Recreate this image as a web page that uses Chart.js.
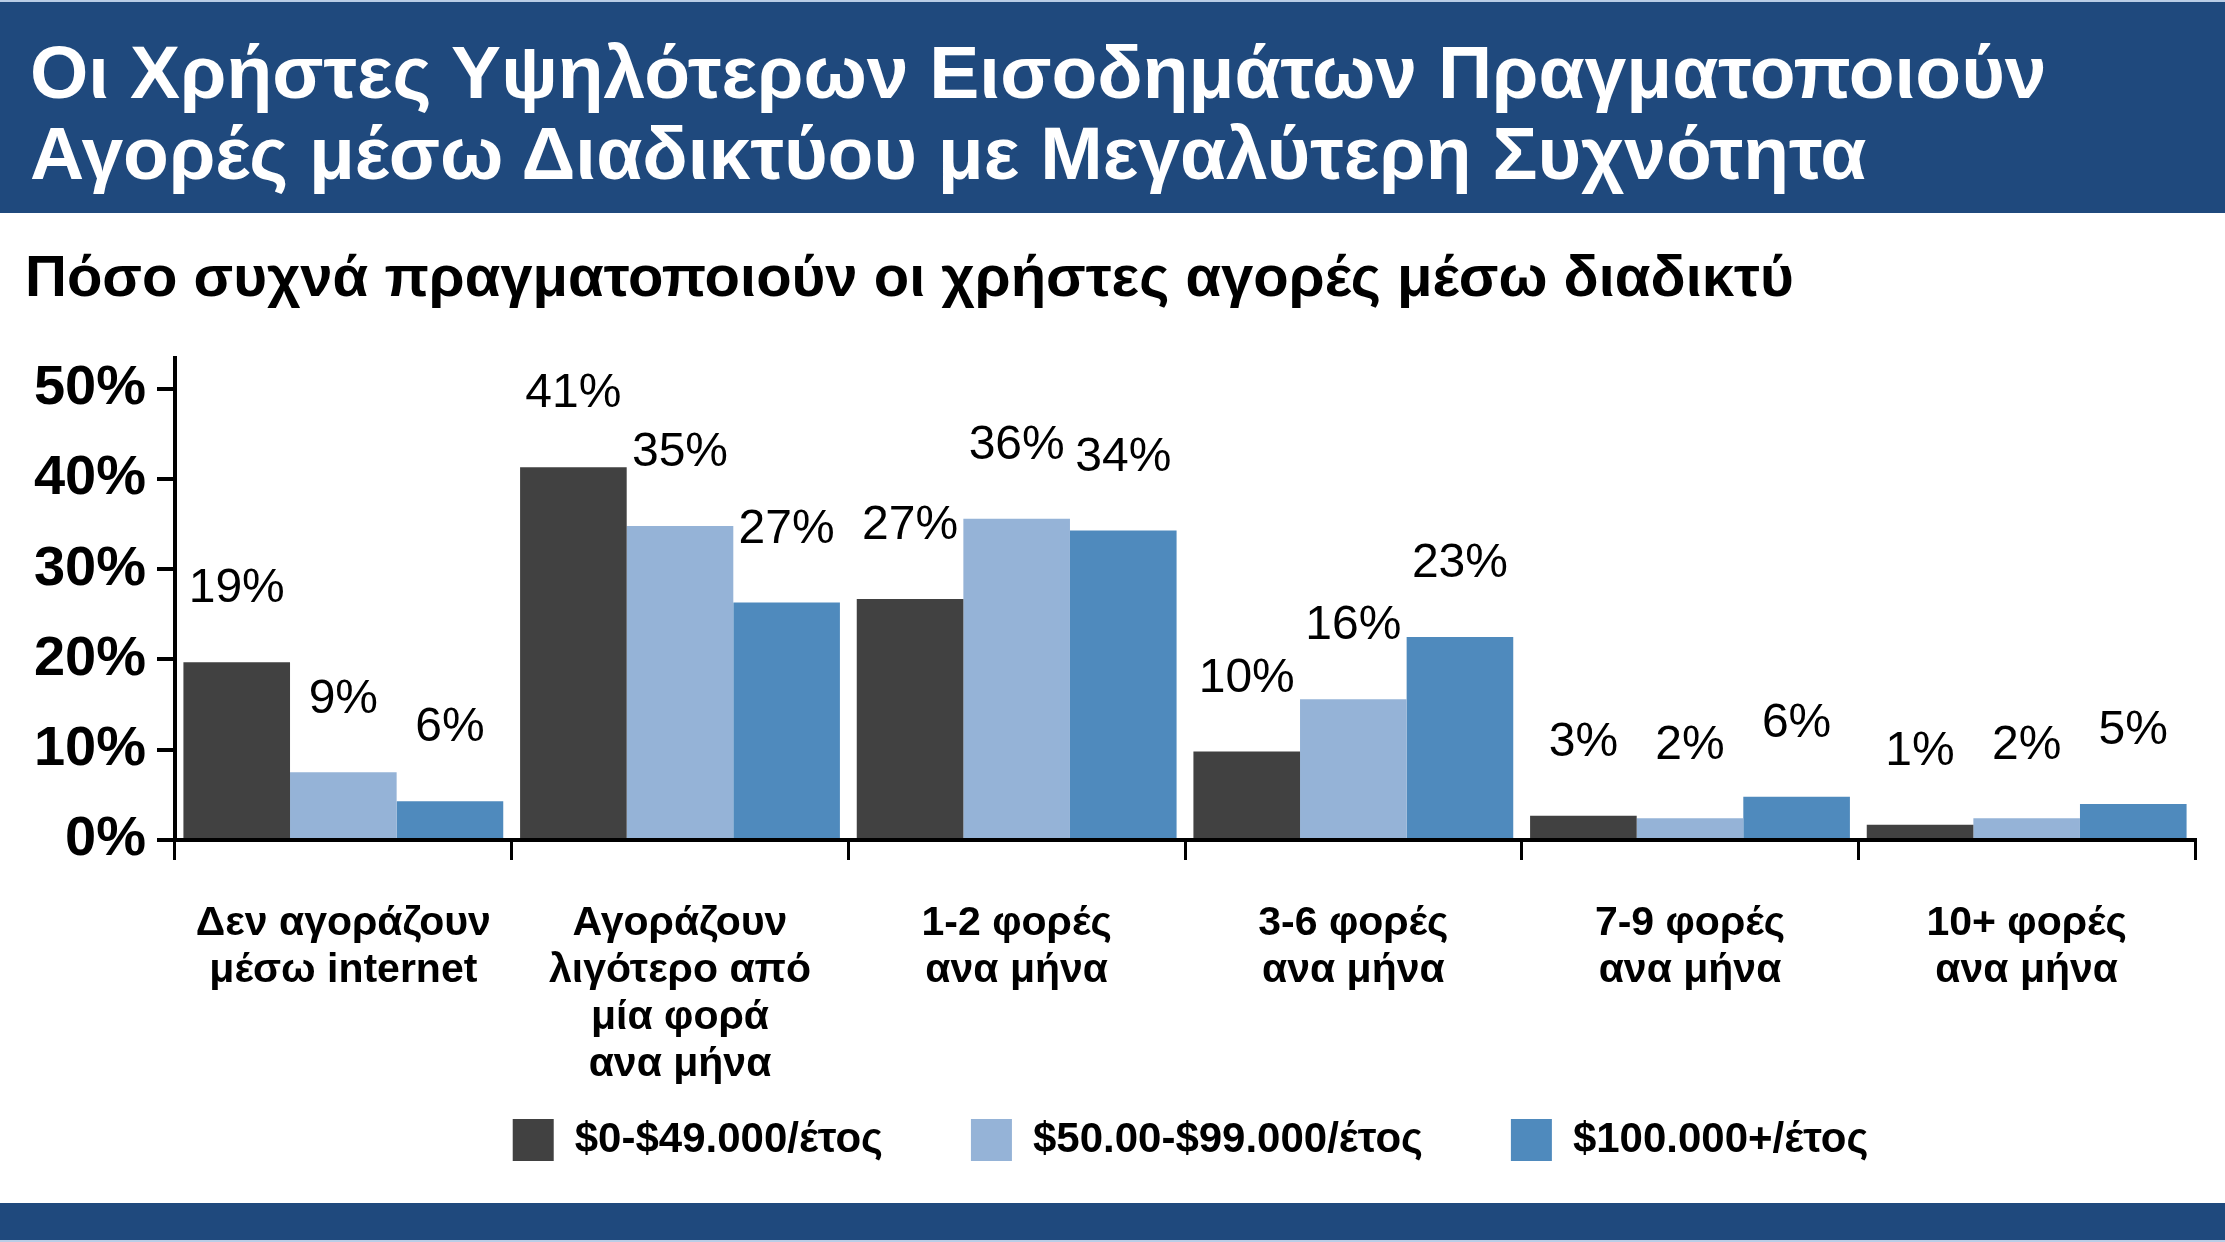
<!DOCTYPE html>
<html>
<head>
<meta charset="utf-8">
<script src="https://cdn.jsdelivr.net/npm/chart.js@4"></script>
<style>
  html, body { margin: 0; padding: 0; background: #fff; }
  body { width: 2225px; height: 1242px; overflow: hidden; position: relative; font-family: "Liberation Sans", Arial, sans-serif; }
  #topBar { position: absolute; left: 0; top: 0; width: 2225px; height: 211px; background: #1f497d; border-top: 2px solid #b9cde6; z-index: 2; }
  #title { position: absolute; left: 30px; top: 30px; color: #fff; font-weight: bold; font-size: 75px; line-height: 81px; white-space: nowrap; }
  #subtitle { position: absolute; left: 25px; top: 246px; color: #000; font-weight: bold; font-size: 58px; line-height: 60px; white-space: nowrap; z-index: 2; }
  #bottomBar { position: absolute; left: 0; top: 1203px; width: 2225px; height: 37px; background: #1f497d; border-bottom: 2px solid #b9cde6; z-index: 2; }
  #wrap { position: absolute; left: 0; top: 300px; width: 2225px; height: 930px; z-index: 1; }
</style>
</head>
<body>
<div id="topBar">
  <div id="title">Οι Χρήστες Υψηλότερων Εισοδημάτων Πραγματοποιούν<br>Αγορές μέσω Διαδικτύου με Μεγαλύτερη Συχνότητα</div>
</div>
<div id="subtitle">Πόσο συχνά πραγματοποιούν οι χρήστες αγορές μέσω διαδικτύ</div>
<div id="wrap"><canvas id="chart"></canvas></div>
<div id="bottomBar"></div>
<script>
// categories (multi-line tick labels)
const categories = [
    ['Δεν αγοράζουν', 'μέσω internet'],
    ['Αγοράζουν', 'λιγότερο από', 'μία φορά', 'ανα μήνα'],
    ['1-2 φορές', 'ανα μήνα'],
    ['3-6 φορές', 'ανα μήνα'],
    ['7-9 φορές', 'ανα μήνα'],
    ['10+ φορές', 'ανα μήνα']
];

const seriesNames = ['$0-$49.000/έτος', '$50.00-$99.000/έτος', '$100.000+/έτος'];

// bar heights as drawn (%)
const lowIncome = [19.7, 41.3, 26.7, 9.8, 2.7, 1.7];
const midIncome = [7.5, 34.8, 35.6, 15.6, 2.4, 2.4];
const highIncome = [4.3, 26.3, 34.3, 22.5, 4.8, 4.0];

// printed labels above bars
const lowLabels = ['19%', '41%', '27%', '10%', '3%', '1%'];
const midLabels = ['9%', '35%', '36%', '16%', '2%', '2%'];
const highLabels = ['6%', '27%', '34%', '23%', '6%', '5%'];

const yTicks = [0, 10, 20, 30, 40, 50];

const FONT = '"Liberation Sans", Arial, sans-serif';

const barLabels = {
    id: 'barLabels',
    afterDatasetsDraw(chart) {
        const ctx = chart.ctx;
        ctx.save();
        ctx.font = '48px ' + FONT;
        ctx.fillStyle = '#000';
        ctx.textAlign = 'center';
        ctx.textBaseline = 'middle';
        chart.data.datasets.forEach((ds, i) => {
            chart.getDatasetMeta(i).data.forEach((bar, j) => {
                ctx.fillText(ds.valueLabels[j], bar.x, bar.y - 73);
            });
        });
        ctx.restore();
    }
};

// move the legend row to where the original has it
const legendShift = {
    id: 'legendShift',
    afterLayout(chart) {
        const lg = chart.legend;
        lg.left += 93;
        lg.right += 93;
        lg.top -= 59;
        lg.bottom -= 59;
    }
};

new Chart(document.getElementById('chart'), {
    type: 'bar',
    data: {
        labels: categories,
        datasets: [{
            label: seriesNames[0],
            data: lowIncome,
            valueLabels: lowLabels,
            backgroundColor: '#414141'
        }, {
            label: seriesNames[1],
            data: midIncome,
            valueLabels: midLabels,
            backgroundColor: '#95b3d7'
        }, {
            label: seriesNames[2],
            data: highIncome,
            valueLabels: highLabels,
            backgroundColor: '#4f8abd'
        }]
    },
    options: {
        responsive: true,
        maintainAspectRatio: false,
        animation: false,
        categoryPercentage: 0.95,
        barPercentage: 1.0,
        layout: {
            padding: { left: 0, right: 30, top: 58, bottom: 0 }
        },
        scales: {
            x: {
                grid: {
                    display: true,
                    drawOnChartArea: false,
                    drawTicks: true,
                    tickLength: 20,
                    lineWidth: 3,
                    color: '#000',
                    offset: true
                },
                border: { display: true, width: 4, color: '#000' },
                ticks: {
                    color: '#000',
                    padding: 40,
                    maxRotation: 0,
                    autoSkip: false,
                    font: { family: FONT, size: 41, weight: 'bold', lineHeight: 1.15 }
                },
                afterFit: (s) => { s.height = 250; }
            },
            y: {
                min: 0,
                max: 53.4,
                grid: {
                    display: true,
                    drawOnChartArea: false,
                    drawTicks: true,
                    tickLength: 18,
                    lineWidth: 4,
                    color: '#000'
                },
                border: { display: true, width: 4, color: '#000' },
                ticks: {
                    color: '#000',
                    padding: 11,
                    font: { family: FONT, size: 56, weight: 'bold' },
                    callback: (v) => v + '%'
                },
                afterBuildTicks: (axis) => { axis.ticks = yTicks.map(v => ({ value: v })); },
                afterFit: (s) => { s.width = 175; }
            }
        },
        plugins: {
            title: { display: false },
            tooltip: { enabled: false },
            legend: {
                position: 'bottom',
                labels: {
                    color: '#000',
                    boxWidth: 41,
                    boxHeight: 42,
                    padding: 88,
                    font: { family: FONT, size: 42, weight: 'bold' }
                }
            }
        }
    },
    plugins: [barLabels, legendShift]
});
</script>
</body>
</html>
